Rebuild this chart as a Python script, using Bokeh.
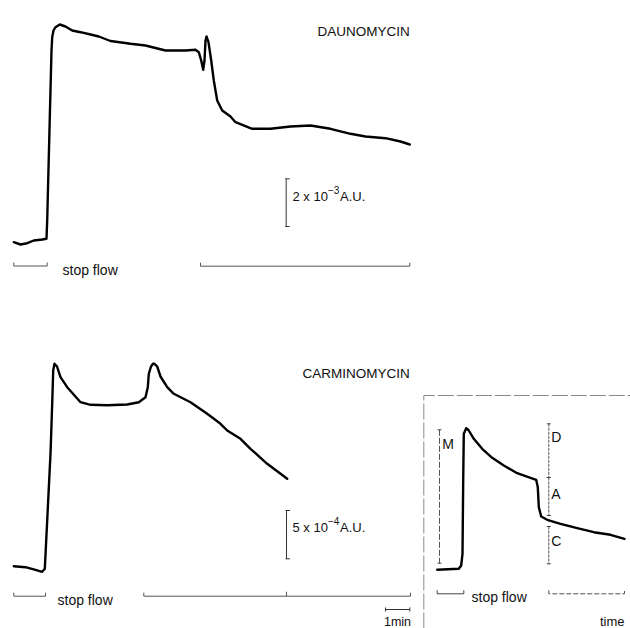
from bokeh.plotting import figure
from bokeh.models import Range1d
from bokeh.core.properties import value
from bokeh.embed import file_html
from bokeh.resources import INLINE

# ---- traces (page pixel units: x right, y down) ----
daunomycin_x = [13.3, 20, 26.7, 33.3, 41.7, 46, 46.7, 49.3, 51, 51.7, 53, 55, 59.3, 65, 71.7, 80,
                90, 98.3, 110, 130, 145, 165, 185, 195, 198.3, 200.7, 202.7, 204, 205, 206, 208,
                210.7, 213.3, 216.7, 221.7, 230, 235, 251.7, 270, 290, 310, 330, 350, 365, 385,
                400, 409.3]
daunomycin_y = [241.7, 244, 242.7, 240, 239, 238.3, 220, 116.7, 50, 36.7, 30, 26.7, 24, 26, 30,
                31.7, 34, 36, 40.5, 43.3, 45, 50, 50, 49.3, 51.7, 60, 69.3, 60, 40, 36, 41.7, 60,
                80, 100, 110, 116, 121.7, 128.3, 128.3, 126, 125, 128.3, 133.3, 136, 137.7, 141,
                144]

carminomycin_x = [13.3, 25, 35, 41.7, 44.3, 46.7, 50, 51.7, 52.7, 54, 56.5, 60, 66.7, 80, 90,
                  106.7, 126.7, 138.3, 145, 147.3, 148.3, 150.5, 152.5, 154, 156.7, 160, 166.7,
                  173.3, 190, 206.7, 220, 226.7, 240, 250, 266.7, 286.7]
carminomycin_y = [565.7, 566.7, 569.3, 571.3, 568.3, 520, 453.3, 403.3, 370, 363.3, 366, 376.7,
                  386.7, 401.7, 404.3, 404.7, 404, 401.7, 396.7, 386.7, 373.3, 366, 363.3,
                  363.3, 366, 376, 386.7, 393.3, 401.7, 413.3, 423.3, 430, 438.3, 448.3, 463.3,
                  478.3]

scheme_x = [436.7, 458.3, 460.7, 462, 462.7, 463.3, 465.7, 468.3, 473.3, 481.7, 491.7, 503.3,
            516.7, 530, 535.7, 537.3, 538.3, 540.7, 546.7, 560, 576.7, 593.3, 610, 624]
scheme_y = [569.3, 568.3, 565, 553.3, 480, 433.3, 427.7, 430, 438.3, 448.3, 457.3, 465, 472.7,
            477.3, 479.3, 486.7, 506.7, 516, 519.3, 523.3, 527.7, 531.7, 534.3, 538.3]

# ---- scale bars: x, top, bottom ----
dauno_scale = [285.7, 178.3, 226.0]
carmino_scale = [286.0, 510.0, 558.3]
minute_bar = [385.0, 409.3, 609.0]

# ---- "stop flow" brackets: x0, x1, y ----
dauno_brackets = [[13.3, 46.7, 265.5], [200.0, 409.3, 265.7]]
carmino_brackets = [[13.3, 45.0, 595.7], [143.3, 410.0, 595.7]]
carmino_mid_tick = 286.0
scheme_brackets = [[436.7, 463.3, 593.3], [548.3, 624.0, 593.3]]

# ---- scheme frame & component bars ----
frame_x = [423.3, 423.3, 630.0]
frame_y = [628.0, 395.0, 395.0]
m_bar = [439.0, 429.3, 562.7]
dac_x = 548.3
dac_segments = [[423.3, 477.0], [477.0, 515.0], [526.0, 563.3]]

FONT = value("Liberation Sans")

p = figure(width=630, height=628, x_range=Range1d(0, 630), y_range=Range1d(628, 0),
           output_backend="svg", toolbar_location=None, min_border=0)
p.axis.visible = False
p.grid.visible = False
p.outline_line_color = None
p.background_fill_color = "white"
p.border_fill_color = "white"

# traces
for xs, ys in [(daunomycin_x, daunomycin_y), (carminomycin_x, carminomycin_y), (scheme_x, scheme_y)]:
    p.line(xs, ys, line_color="black", line_width=2.4, line_join="round", line_cap="round")

# scale bars
for sx, y0, y1 in [dauno_scale, carmino_scale]:
    p.segment(x0=[sx, sx - 1, sx - 1], y0=[y0, y0, y1], x1=[sx, sx + 3.5, sx + 3.5], y1=[y1, y0, y1],
              line_color="#333333", line_width=1)
mx0, mx1, my = minute_bar
p.segment(x0=[mx0, mx0, mx1], y0=[my, my - 2, my - 2], x1=[mx1, mx0, mx1], y1=[my, my + 2, my + 2],
          line_color="#333333", line_width=1)

# brackets
bx, by = [], []
for x0, x1, y in dauno_brackets + carmino_brackets:
    bx.append([x0, x0, x1, x1])
    by.append([y - 3.5, y, y, y - 3.5])
bx.append([carmino_mid_tick, carmino_mid_tick])
by.append([carmino_brackets[1][2], carmino_brackets[1][2] - 4.5])
p.multi_line(bx, by, line_color="#555555", line_width=1)
x0, x1, y = scheme_brackets[0]
p.line([x0, x0, x1, x1], [y - 3.5, y, y, y - 3.5], line_color="#444444", line_width=1)
x0, x1, y = scheme_brackets[1]
p.line([x0, x0, x1, x1], [y - 3.5, y, y, y - 3.5], line_color="#555555", line_width=1,
       line_dash="5 2")

# scheme frame
p.line(frame_x, frame_y, line_color="#8a8a8a", line_width=1, line_dash="16 3")

# component bars M, D, A, C
mxx, mt, mb = m_bar
p.line([mxx, mxx], [mt, mb], line_color="#555555", line_width=1, line_dash="6 2")
capx0, capx1, capy = [], [], []
for yy in [mt, mb]:
    capx0.append(mxx - 2); capx1.append(mxx + 2); capy.append(yy)
for a, b in dac_segments:
    p.line([dac_x, dac_x], [a, b], line_color="#555555", line_width=1, line_dash="3 1")
    for yy in (a, b):
        capx0.append(dac_x - 2); capx1.append(dac_x + 2); capy.append(yy)
p.segment(x0=capx0, y0=capy, x1=capx1, y1=capy, line_color="#444444", line_width=1)

# texts
p.text(x=[409.3, 409.3], y=[31, 372.5], text=["DAUNOMYCIN", "CARMINOMYCIN"],
       text_font=FONT, text_font_size=value("13.5px"), text_align="right",
       text_baseline="alphabetic", text_color="#111111")
p.text(x=[62, 57, 471], y=[269.5, 599, 596], text=["stop flow", "stop flow", "stop flow"],
       text_font=FONT, text_font_size=value("14px"), text_align="left",
       text_baseline="alphabetic", text_color="#111111")
# scale labels
p.text(x=[292, 292], y=[196, 527], text=["2 x 10", "5 x 10"],
       text_font=FONT, text_font_size=value("13px"), text_align="left",
       text_baseline="alphabetic", text_color="#111111")
p.text(x=[327.5, 327.5], y=[189, 520], text=["\u22123", "\u22124"],
       text_font=FONT, text_font_size=value("10px"), text_align="left",
       text_baseline="alphabetic", text_color="#111111")
p.text(x=[339.5, 339.5], y=[196, 527], text=["A.U.", "A.U."],
       text_font=FONT, text_font_size=value("13px"), text_align="left",
       text_baseline="alphabetic", text_color="#111111")
# M D A C
p.text(x=[441.7, 550.7, 550.7, 550.7], y=[443.3, 436.7, 493.3, 540],
       text=["M", "D", "A", "C"], text_font=FONT, text_font_size=value("14px"),
       text_align="left", text_baseline="alphabetic", text_color="#111111")
p.text(x=[397], y=[621], text=["1min"], text_font=FONT, text_font_size=value("12.5px"),
       text_align="center", text_baseline="alphabetic", text_color="#111111")
p.text(x=[624], y=[621], text=["time"], text_font=FONT, text_font_size=value("13px"),
       text_align="right", text_baseline="alphabetic", text_color="#111111")

open("out.html", "w").write(file_html(p, INLINE))
